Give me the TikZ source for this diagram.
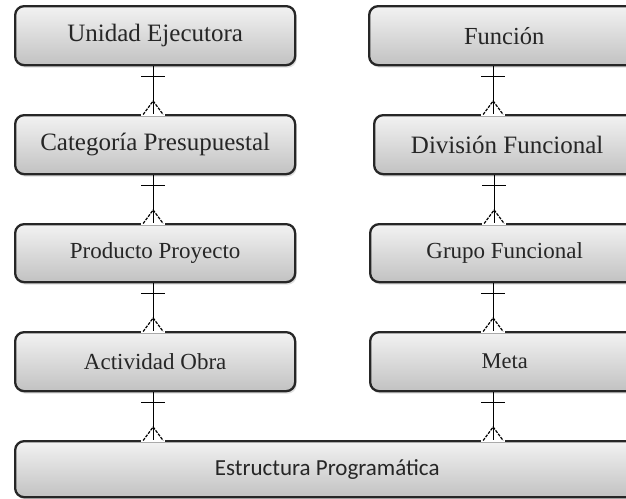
\documentclass[tikz,border=0pt]{standalone}
\usepackage{fontspec}
\setmainfont{Liberation Serif}
\newfontfamily\carlitofont{Carlito}
\usetikzlibrary{calc,shadows}
\tikzset{
  box/.style={draw=black!85, line width=2.3pt, rounded corners=9pt,
    top color=black!5, bottom color=black!24, anchor=north west,
    inner sep=0pt, text=black!85,
    drop shadow={opacity=0.25, shadow xshift=1.5pt, shadow yshift=-2.5pt}},
  conn/.style={draw=black, line width=1.1pt},
  foot/.style={draw=black, line width=1.2pt, dash pattern=on 3pt off 1.2pt}
}
\newcommand\erlink[3]{%
  \coordinate (lka) at ([xshift=#3]#1.south);
  \coordinate (lkb) at (lka |- #2.north);
  \fill[white] ($(lka)+(-12,1.5)$) rectangle ($(lka)+(12,11)$);
  \fill[white] ($(lkb)+(-12,-12)$) rectangle ($(lkb)+(12,1.6)$);
  \draw[conn] (lka) -- (lkb);
  \draw[conn] ($(lka)+(-12,10)$) -- ($(lka)+(12,10)$);
  \draw[foot] ($(lkb)+(-10,0.5)$) -- ($(lkb)+(0,-13)$) -- ($(lkb)+(10,0.5)$);
}
\begin{document}
\begin{tikzpicture}[x=1pt,y=-1pt]
\clip (0,0) rectangle (626,498);
\fill[white] (0,0) rectangle (626,498);
% left column
\node[box, minimum width=280pt, minimum height=59pt, font=\fontsize{25}{28}\selectfont] (ue) at (14,5) {Unidad Ejecutora};
\node[box, minimum width=280pt, minimum height=59pt, font=\fontsize{25}{28}\selectfont] (cp) at (14,114) {Categoría Presupuestal};
\node[box, minimum width=280pt, minimum height=58pt, font=\fontsize{23}{26}\selectfont] (pp) at (14,223) {Producto Proyecto};
\node[box, minimum width=280pt, minimum height=59pt, font=\fontsize{23}{26}\selectfont] (ao) at (14,331) {Actividad Obra};
% right column
\node[box, minimum width=270pt, minimum height=59pt, font=\fontsize{24.5}{28}\selectfont] (fu) at (368,5) {Función};
\node[box, minimum width=266pt, minimum height=59pt, font=\fontsize{25}{28}\selectfont] (df) at (373,114) {División Funcional};
\node[box, minimum width=269pt, minimum height=58pt, font=\fontsize{23}{26}\selectfont] (gf) at (369,223) {Grupo Funcional};
\node[box, minimum width=269pt, minimum height=59pt, font=\fontsize{22.5}{26}\selectfont] (me) at (369,331) {Meta};
% bottom
\node[box, minimum width=624pt, minimum height=56pt, font=\carlitofont\fontsize{23}{26}\selectfont] (ep) at (14,440) {Estructura Programática};
% connectors
\erlink{ue}{cp}{-2pt}
\erlink{cp}{pp}{-2pt}
\erlink{pp}{ao}{-2pt}
\erlink{ao}{ep}{-2pt}
\erlink{fu}{df}{-11pt}
\erlink{df}{gf}{-13pt}
\erlink{gf}{me}{-11.5pt}
\erlink{me}{ep}{-11.5pt}
\end{tikzpicture}
\end{document}
